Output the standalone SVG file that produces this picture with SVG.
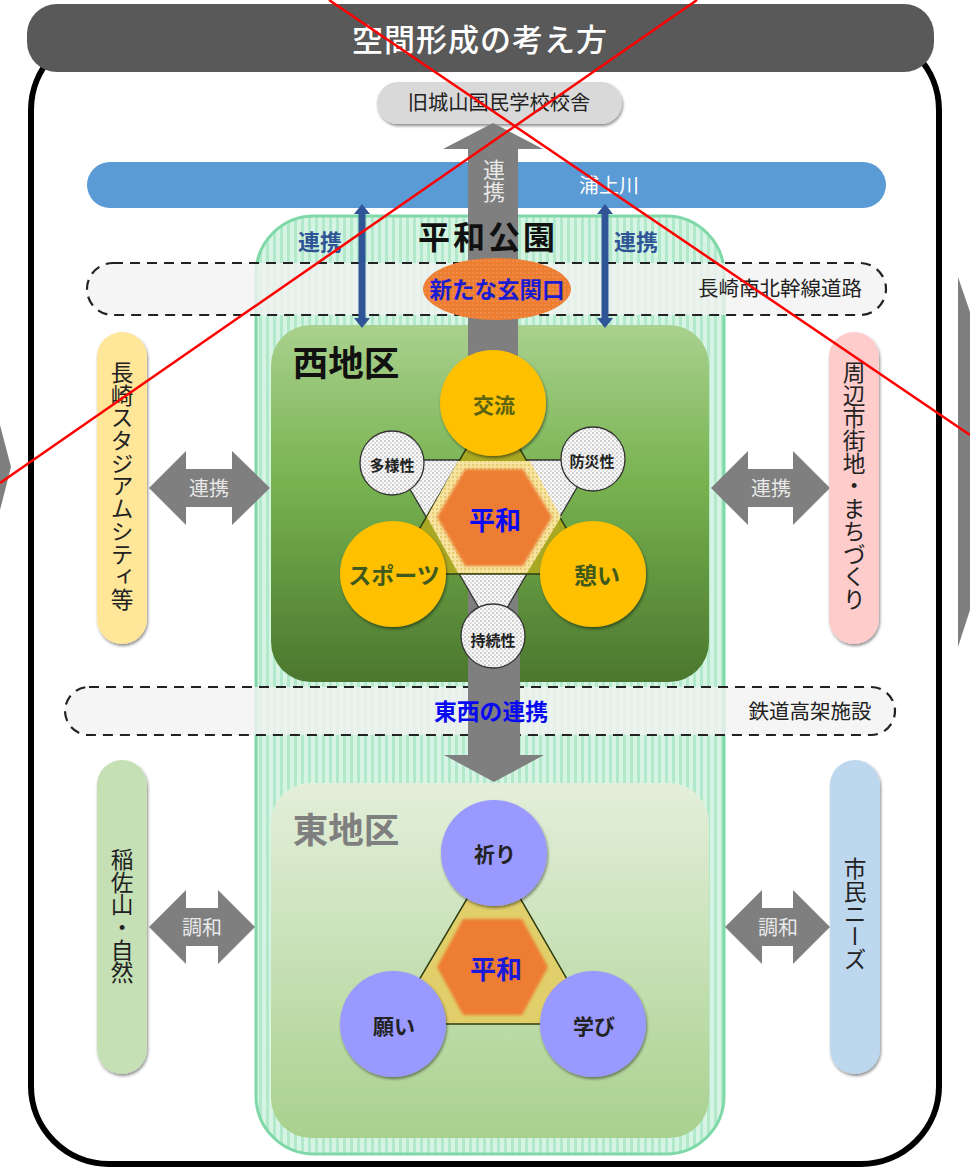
<svg xmlns="http://www.w3.org/2000/svg" width="970" height="1169" viewBox="0 0 970 1169">
<style>
text{font-family:"Noto Sans CJK JP","Liberation Sans",sans-serif;text-anchor:middle;dominant-baseline:central;fill:#222}
.v{writing-mode:vertical-rl;text-anchor:start;dominant-baseline:auto;font-size:22.7px;fill:#222}
.b{font-weight:700}
.arrow{fill:#7f7f7f}
.blue{fill:#2f5597;stroke:none}
.lane{fill:#f2f2f2;fill-opacity:.78;stroke:#222;stroke-width:2.2;stroke-dasharray:10 7}
.pill{filter:url(#sh)}
.big{filter:url(#sh)}
.small{fill:url(#dots);stroke:#333;stroke-width:1.3}
.lt{fill:#e8e8e8}
</style>
<defs>
<filter id="sh" x="-20%" y="-20%" width="140%" height="140%"><feDropShadow dx="1" dy="2" stdDeviation="1.6" flood-color="#000" flood-opacity=".45"/></filter>
<filter id="soft" x="-10%" y="-10%" width="120%" height="120%"><feGaussianBlur stdDeviation="1.5"/></filter>
<linearGradient id="west" x1="0" y1="0" x2="0" y2="1"><stop offset="0" stop-color="#a9d18e"/><stop offset=".45" stop-color="#77b24f"/><stop offset="1" stop-color="#4b772e"/></linearGradient>
<linearGradient id="east" x1="0" y1="0" x2="0" y2="1"><stop offset="0" stop-color="#e4efdb"/><stop offset="1" stop-color="#a9d18e"/></linearGradient>
<pattern id="stripes" width="7" height="8" patternUnits="userSpaceOnUse"><rect width="7" height="8" fill="#d6f4e4"/><rect x="0" width="3" height="8" fill="#b2e9ca"/></pattern>
<pattern id="dots" width="4" height="4" patternUnits="userSpaceOnUse"><rect width="4" height="4" fill="#fafafa"/><rect x="0" y="0" width="2" height="2" fill="#cfcfcf"/><rect x="2" y="2" width="2" height="2" fill="#dedede"/></pattern>
<pattern id="odots" width="4" height="4" patternUnits="userSpaceOnUse"><rect width="4" height="4" fill="#ed7d31"/><rect width="2" height="2" fill="#f08c4a"/></pattern>
<pattern id="ydots" width="4" height="4" patternUnits="userSpaceOnUse"><rect width="4" height="4" fill="#f6e4a0"/><rect width="2" height="2" fill="#e6cc70"/></pattern>
</defs>
<rect width="970" height="1169" fill="#fff"/>
<polygon class="arrow" points="0,425 11,467 0,510"/>
<polygon class="arrow" points="958,277 970,312 970,610 958,647"/>
<rect id="frame" x="31" y="32" width="908" height="1132" rx="78" fill="#fff" stroke="#000" stroke-width="6"/>
<g id="title"><rect x="27" y="4" width="907" height="68" rx="30" fill="#595959"/><text x="480" y="37" font-size="31" font-weight="500" letter-spacing="1" style="fill:#fff">空間形成の考え方</text></g>
<g id="school"><rect class="pill" x="377" y="82" width="245" height="42" rx="21" fill="#d9d9d9"/><text x="499" y="101" font-size="20.300">旧城山国民学校校舎</text></g>
<g id="river"><rect x="87" y="162" width="799" height="46" rx="23" fill="#5b9bd5"/><text x="609" y="184" font-size="20" style="fill:#fff">浦上川</text></g>
<g id="park"><rect x="256" y="216" width="468" height="938" rx="58" fill="url(#stripes)" stroke="#7fd8a8" stroke-width="3"/></g>
<g id="road"><rect class="lane" x="87" y="263" width="799" height="52" rx="26"/><text x="780" y="287" font-size="20.500">長崎南北幹線道路</text></g>
<g id="rail"><rect class="lane" x="65" y="687" width="830" height="48" rx="24"/><text x="810" y="710" font-size="20.500">鉄道高架施設</text></g>
<g id="west-panel"><rect x="271" y="325" width="438" height="357" rx="40" fill="url(#west)"/><text x="346" y="360" font-size="35.500" class="b" style="fill:#111">西地区</text></g>
<g id="east-panel"><rect x="271" y="783" width="438" height="355" rx="40" fill="url(#east)"/><text x="346" y="827" font-size="35.500" class="b" style="fill:#7f7f7f">東地区</text></g>
<g id="connectors">
<polygon class="arrow" points="468,640 468,149 443,149 493,123 543,149 518,149 518,640"/>
<polygon class="arrow" points="468,640 520,640 520,755 544,755 494,782 444,755 468,755"/>
<polygon class="blue" points="362,204 370,214 365.500,214 365.500,318 370,318 362,328 354,318 358.500,318 358.500,214 354,214"/>
<polygon class="blue" points="605,204 613,214 608.500,214 608.500,318 613,318 605,328 597,318 601.500,318 601.500,214 597,214"/>
<polygon class="arrow" points="149,488 186,451 186,469 232,469 232,451 270,488 232,525 232,507 186,507 186,525"/>
<polygon class="arrow" points="711,488 748,451 748,469 793,469 793,451 830,488 793,525 793,507 748,507 748,525"/>
<polygon class="arrow" points="149,927 186,890 186,908 218,908 218,890 255,927 218,964 218,946 186,946 186,964"/>
<polygon class="arrow" points="725,927 762,890 762,908 793,908 793,890 830,927 793,964 793,946 762,946 762,964"/>
<text class="v" x="494" y="159" style="fill:#e8e8e8;font-size:22px">連携</text>
<text x="320" y="240" font-size="22" class="b" style="fill:#2f5597">連携</text>
<text x="636" y="240" font-size="22" class="b" style="fill:#2f5597">連携</text>
<text x="209" y="487" font-size="20" class="lt" style="fill:#e8e8e8">連携</text>
<text x="771" y="487" font-size="20" class="lt" style="fill:#e8e8e8">連携</text>
<text x="202" y="926" font-size="20" class="lt" style="fill:#e8e8e8">調和</text>
<text x="778" y="926" font-size="20" class="lt" style="fill:#e8e8e8">調和</text>
</g>
<text id="park-label" x="488" y="235" font-size="32" class="b" letter-spacing="3" style="fill:#111">平和公園</text>
<g id="gate"><ellipse cx="497" cy="289" rx="74" ry="31" fill="url(#odots)"/><text x="497" y="288" font-size="22.500" class="b" style="fill:#1c1cd0">新たな玄関口</text></g>
<text id="east-west" x="491" y="710" font-size="22.800" class="b" style="fill:#0a0af0">東西の連携</text>
<g id="west-diagram">
<polygon points="393,460 593,460 493,632" fill="url(#dots)" stroke="#333" stroke-width="1.300"/>
<polygon points="493,403 593,574 393,574" fill="#a9a822" stroke="#2f3d12" stroke-width="1.500"/>
<polygon points="458,461 530,461 561,517 527,573 458,573 427,517" fill="url(#ydots)"/>
<polygon points="465,469 523,469 552,517 523,566 465,566 437,517" fill="#ed7d31" filter="url(#soft)"/>
<text x="495" y="518" font-size="26" class="b" style="fill:#0a0af0">平和</text>
</g>
<g id="n-koryu"><circle class="big" cx="493" cy="403" r="53" fill="#ffc000"/><text x="494" y="404" font-size="21" class="b" style="fill:#5a6310">交流</text></g>
<g id="n-sports"><circle class="big" cx="393" cy="574" r="53" fill="#ffc000"/><text x="394" y="574" font-size="23" class="b" style="fill:#3f5a1c">スポーツ</text></g>
<g id="n-ikoi"><circle class="big" cx="593" cy="574" r="53" fill="#ffc000"/><text x="597" y="574" font-size="23" class="b" style="fill:#3f5a1c">憩い</text></g>
<g id="n-tayo"><circle class="small" cx="392" cy="463" r="32"/><text x="392" y="464" font-size="15" class="b">多様性</text></g>
<g id="n-bosai"><circle class="small" cx="593" cy="459" r="32"/><text x="592" y="460" font-size="15" class="b">防災性</text></g>
<g id="n-jizoku"><circle class="small" cx="493" cy="636" r="32"/><text x="493" y="639" font-size="15" class="b">持続性</text></g>
<g id="east-diagram">
<polygon points="494,853 593,1024 393,1024" fill="#e0cf6a" stroke="#2f3d12" stroke-width="1.500"/>
<polygon points="463,919 522,919 548,967 522,1015 463,1015 437,967" fill="#ed7d31" filter="url(#soft)"/>
<text x="496" y="967" font-size="26" class="b" style="fill:#1a1ad8">平和</text>
</g>
<g id="n-inori"><circle class="big" cx="494" cy="853" r="53" fill="#9999ff"/><text x="495" y="853" font-size="21" class="b">祈り</text></g>
<g id="n-negai"><circle class="big" cx="393" cy="1024" r="53" fill="#9999ff"/><text x="394" y="1025" font-size="21" class="b">願い</text></g>
<g id="n-manabi"><circle class="big" cx="593" cy="1024" r="53" fill="#9999ff"/><text x="594" y="1025" font-size="21" class="b">学び</text></g>
<g id="n-stadium"><rect class="pill" x="97" y="332" width="50" height="312" rx="25" fill="#ffe699"/><text class="v" x="122" y="361">長崎スタジアムシティ等</text></g>
<g id="n-city"><rect class="pill" x="829" y="332" width="50" height="312" rx="25" fill="#ffcccc"/><text class="v" x="854" y="361">周辺市街地・まちづくり</text></g>
<g id="n-inasa"><rect class="pill" x="97" y="760" width="50" height="314" rx="25" fill="#c5e0b4"/><text class="v" x="122" y="848">稲佐山・自然</text></g>
<g id="n-needs"><rect class="pill" x="830" y="760" width="50" height="314" rx="25" fill="#bdd7ee"/><text class="v" x="855" y="857">市民ニーズ</text></g>
<g id="cross" stroke="#f00" stroke-width="2.500"><line x1="329" y1="0" x2="970" y2="435"/><line x1="697" y1="0" x2="0" y2="483"/></g>
</svg>
